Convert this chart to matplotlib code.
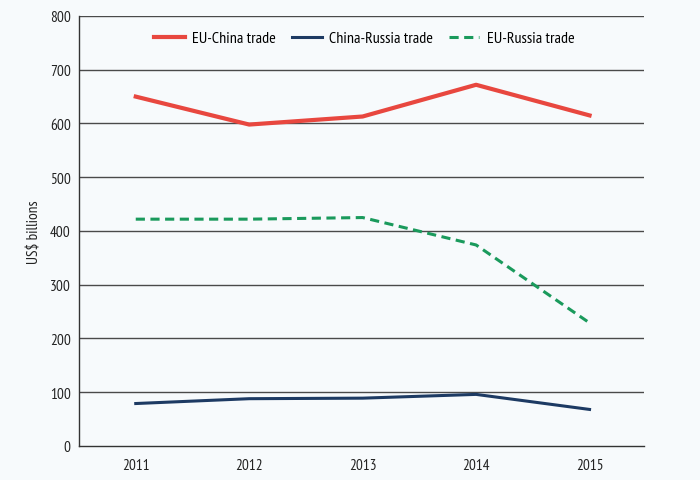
import matplotlib
matplotlib.use("Agg")
import matplotlib.pyplot as plt

# Data
years = [2011, 2012, 2013, 2014, 2015]
eu_china = [650, 598, 613, 672, 615]
china_russia = [79, 88, 89, 96, 68]
eu_russia = [422, 422, 425, 374, 229]
yticks = [0, 100, 200, 300, 400, 500, 600, 700, 800]

BG = "#f7fafc"

plt.rcParams["font.family"] = ["PT Sans Narrow", "DejaVu Sans"]

fig = plt.figure(figsize=(7, 4.81), dpi=100, facecolor=BG)
ax = fig.add_axes([0.1129, 0.0707, 0.8071, 0.894])
ax.set_facecolor(BG)

# horizontal gridlines
for y in yticks[1:]:
    ax.axhline(y, color="#4a4a4a", linewidth=1.0, zorder=1)

ax.plot(years, eu_china, color="#e8473f", linewidth=3, label="EU-China trade", zorder=3)
ax.plot(years, china_russia, color="#1d3a63", linewidth=2.2, label="China-Russia trade", zorder=3)
ax.plot(years, eu_russia, color="#1a9a5c", linewidth=2.2, linestyle=(0, (3, 1.8)),
        label="EU-Russia trade", zorder=3)

ax.set_xlim(2010.5, 2015.48)
ax.set_ylim(0, 800)
ax.set_xticks(years)
ax.set_xticklabels([str(y) for y in years])
ax.set_yticks(yticks)
ax.tick_params(length=0, labelsize=11, colors="#222222")
ax.tick_params(axis="x", pad=9)
ax.tick_params(axis="y", pad=6)

for side in ["top", "right"]:
    ax.spines[side].set_visible(False)
for side in ["left", "bottom"]:
    ax.spines[side].set_color("#333333")
    ax.spines[side].set_linewidth(1.0)

ax.set_ylabel("US$ billions", fontsize=11, color="#222222", labelpad=6)

ax.legend(loc="center", bbox_to_anchor=(0.505, 0.948), ncol=3, frameon=False,
          fontsize=11.5, handlelength=1.9, columnspacing=1.0, handletextpad=0.45)

fig.savefig("out.png", dpi=100, facecolor=BG)
